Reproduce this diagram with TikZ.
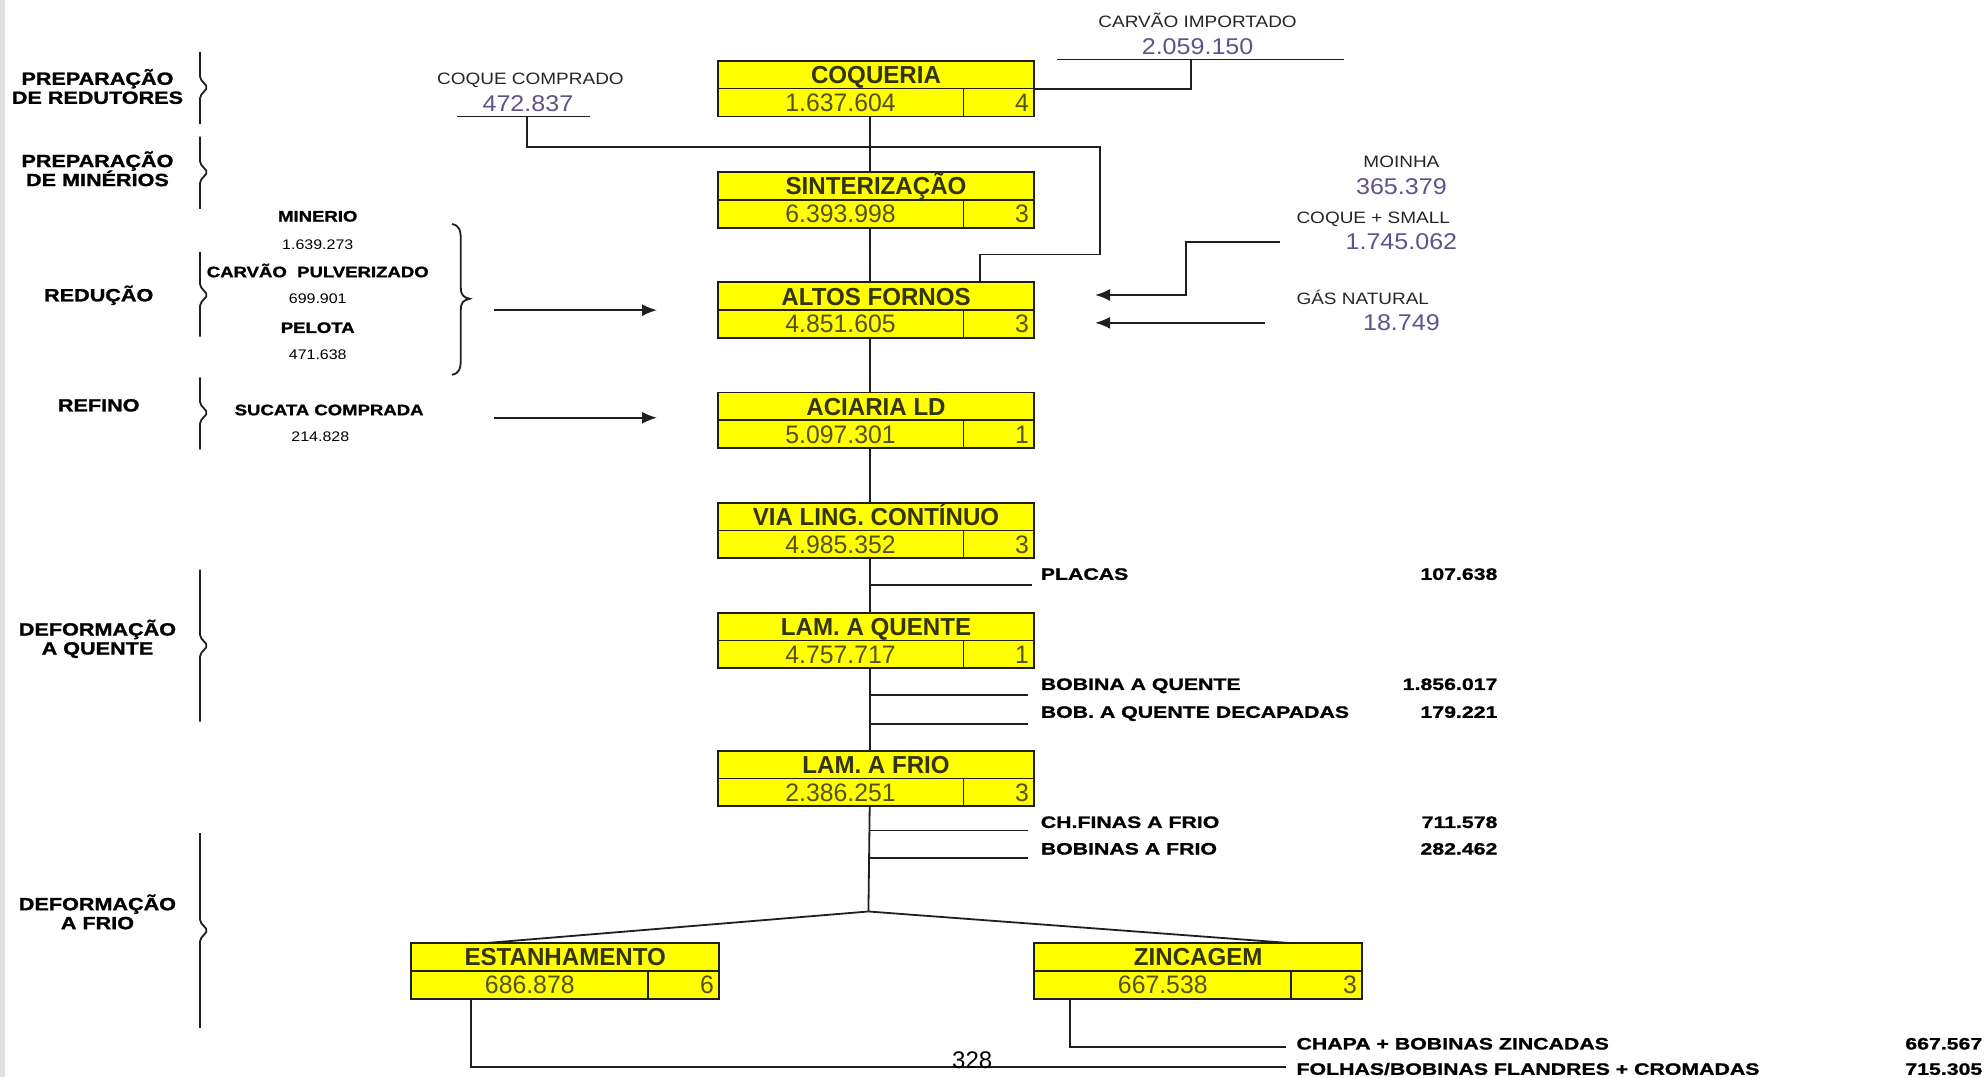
\documentclass[tikz,border=0pt]{standalone}
\usepackage{fontspec}
\setmainfont{Liberation Sans}
\newfontfamily\boxfont[FakeStretch=0.98]{Liberation Sans}
\newfontfamily\lblfont[FakeStretch=1.22, BoldFeatures={FakeBold=1.3}]{Liberation Sans}
\newfontfamily\olblfont[FakeStretch=1.29, BoldFeatures={FakeBold=1.2}]{Liberation Sans}
\newfontfamily\thinfont[FakeStretch=1.15]{Liberation Sans}
\newfontfamily\numfont[FakeStretch=1.1]{Liberation Sans}
\usetikzlibrary{calc,arrows.meta}
\definecolor{boxyellow}{rgb}{1,1,0}
\definecolor{boxtxt}{rgb}{0.2,0.2,0.05}
\definecolor{valtxt}{rgb}{0.33,0.32,0.1}
\definecolor{purp}{rgb}{0.38,0.32,0.55}
\definecolor{lncol}{rgb}{0.12,0.12,0.12}
\newcommand\procbox[7]{%
  \node[pbox, minimum width={#4*1.266pt}, minimum height={44*1.266pt}, anchor=north west] (#1) at (#2,#3) {};
  \draw[pline] (#1.west) -- (#1.east);
  \draw[pline] ($(#1.south east)+(-56,0)$) -- ($(#1.east)+(-56,0)$);
  \node[ptitle, anchor=base] (#1-t) at ($(#1.center)+(0,-4)$) {#5};
  \node[pval, anchor=base] (#1-v) at ($(#1.south west)+({(#4-56)/2},-4)$) {#6};
  \node[pval, anchor=base east] (#1-d) at ($(#1.south east)+(-4,-4)$) {#7};
}
\newcommand\stagebr[3]{%
  \draw[conn, rounded corners=2pt] (158,#1) -- (158,{#2-7}) -- (164,#2) -- (158,{#2+7}) -- (158,#3);
}
\begin{document}
\begin{tikzpicture}[x=1.266pt,y=-1.266pt,
  pbox/.style={draw=lncol, line width=1.9pt, fill=boxyellow, inner sep=0pt, outer sep=0pt},
  pline/.style={draw=lncol, line width=1.7pt},
  ptitle/.style={font=\boxfont\bfseries\fontsize{24.6pt}{26pt}\selectfont, text=boxtxt, inner sep=0pt},
  pval/.style={font=\boxfont\fontsize{25.3pt}{26pt}\selectfont, text=valtxt, inner sep=0pt},
  conn/.style={draw=lncol, line width=1.8pt},
  arr/.style={conn, -{Latex[length=15pt,width=12pt]}},
  stage/.style={font=\lblfont\bfseries\fontsize{17.7pt}{19pt}\selectfont, inner sep=0pt, anchor=base},
  inlbl/.style={font=\lblfont\bfseries\fontsize{15.2pt}{16pt}\selectfont, inner sep=0pt, anchor=base},
  innum/.style={font=\thinfont\fontsize{13.9pt}{15pt}\selectfont, inner sep=0pt, anchor=base},
  olbl/.style={font=\olblfont\bfseries\fontsize{16.5pt}{17pt}\selectfont, inner sep=0pt, anchor=base west},
  oval/.style={font=\olblfont\bfseries\fontsize{16.5pt}{17pt}\selectfont, inner sep=0pt, anchor=base east},
  thin/.style={font=\thinfont\fontsize{16.5pt}{17pt}\selectfont, text=black!85, inner sep=0pt, anchor=base},
  pnum/.style={font=\numfont\fontsize{22.8pt}{24pt}\selectfont, text=purp, inner sep=0pt, anchor=base},
]
\useasboundingbox (0,0) rectangle (1568,851);
\fill[white] (0,0) rectangle (1568,851);
\fill[black!12] (0,0) rectangle (4,851);

% process boxes
\procbox{coq}{567}{48}{250}{COQUERIA}{1.637.604}{4}
\procbox{sin}{567}{136}{250}{SINTERIZAÇÃO}{6.393.998}{3}
\procbox{alt}{567}{223}{250}{ALTOS FORNOS}{4.851.605}{3}
\procbox{aci}{567}{310}{250}{ACIARIA LD}{5.097.301}{1}
\procbox{via}{567}{397}{250}{VIA LING. CONTÍNUO}{4.985.352}{3}
\procbox{lqu}{567}{484}{250}{LAM. A QUENTE}{4.757.717}{1}
\procbox{lfr}{567}{593}{250}{LAM. A FRIO}{2.386.251}{3}
\procbox{est}{325}{745}{243}{ESTANHAMENTO}{686.878}{6}
\procbox{zin}{817}{745}{259}{ZINCAGEM}{667.538}{3}

% main line
\coordinate (mx) at (687,0);
\coordinate (jn) at (686,720);
\draw[conn] (coq.south -| mx) -- (sin.north -| mx);
\draw[conn] (sin.south -| mx) -- (alt.north -| mx);
\draw[conn] (alt.south -| mx) -- (aci.north -| mx);
\draw[conn] (aci.south -| mx) -- (via.north -| mx);
\draw[conn] (via.south -| mx) -- (lqu.north -| mx);
\draw[conn] (lqu.south -| mx) -- (lfr.north -| mx);
\draw[conn] (lfr.south -| mx) -- (jn);
\draw[conn] (jn) -- ($(est.north west)+(58,0)$);
\draw[conn] (jn) -- ($(zin.north east)+(-56,0)$);

% side outputs
\coordinate (o1) at (815,462);
\coordinate (o2) at (812,549);
\coordinate (o3) at (812,572);
\coordinate (o4) at (812,656);
\coordinate (o5) at (812,678);
\foreach \c in {o1,o2,o3,o4,o5} \draw[conn] (\c -| mx) -- (\c);
\node[olbl] (placas) at (822,458) {PLACAS};
\node[oval] (placas-v) at (1183,458) {107.638};
\node[olbl] (bq) at (822,545) {BOBINA A QUENTE};
\node[oval] (bq-v) at (1183,545) {1.856.017};
\node[olbl] (bqd) at (822,567) {BOB. A QUENTE DECAPADAS};
\node[oval] (bqd-v) at (1183,567) {179.221};
\node[olbl] (chf) at (822,654) {CH.FINAS A FRIO};
\node[oval] (chf-v) at (1183,654) {711.578};
\node[olbl] (bfr) at (822,675) {BOBINAS A FRIO};
\node[oval] (bfr-v) at (1183,675) {282.462};

% bottom outputs
\coordinate (zo) at (1016,827);
\coordinate (eo) at (1016,843);
\draw[conn] ($(zin.south west)+(28,0)$) |- (zo);
\draw[conn] ($(est.south west)+(47,0)$) |- (eo);
\node[olbl] (chapa) at (1024,829) {CHAPA + BOBINAS ZINCADAS};
\node[oval] (chapa-v) at (1566,829) {667.567};
\node[olbl] (folhas) at (1024,849) {FOLHAS/BOBINAS FLANDRES + CROMADAS};
\node[oval] (folhas-v) at (1566,849) {715.305};
\node[font=\fontsize{24pt}{25pt}\selectfont, inner sep=0pt, anchor=base] (pg) at (768,844) {328};

% coque comprado
\node[thin] (cc) at (419,66.5) {COQUE COMPRADO};
\node[pnum] (cc-v) at (417,88) {472.837};
\coordinate (cc1) at (361,92);
\coordinate (cc2) at (466,92);
\draw[conn] (cc1) -- (cc2);
\draw[conn] (416,92) -- (416,116) -- (869,116) -- (869,201) -- (774,201) -- (774,201 |- alt.north);

% carvao importado
\node[thin] (ci) at (946,21.5) {CARVÃO IMPORTADO};
\node[pnum] (ci-v) at (946,43) {2.059.150};
\coordinate (ci1) at (835,47);
\coordinate (ci2) at (1062,47);
\draw[conn] (ci1) -- (ci2);
\draw[conn] (941,47) |- (coq.east);

% right inputs
\node[thin] (mo) at (1107,132.5) {MOINHA};
\node[pnum] (mo-v) at (1107,154) {365.379};
\node[thin, anchor=base west] (cs) at (1024,176.5) {COQUE + SMALL};
\node[pnum] (cs-v) at (1107,197) {1.745.062};
\node[thin, anchor=base west] (gn) at (1024,240.5) {GÁS NATURAL};
\node[pnum] (gn-v) at (1107,261) {18.749};
\coordinate (r1) at (1011,191);
\coordinate (r1e) at (865,233);
\coordinate (r2) at (999,255);
\coordinate (r2e) at (865,255);
\draw[arr] (r1) -| (937,212) |- (r1e);
\draw[arr] (r2) -- (r2e);

% left inputs
\node[inlbl] (min) at (251,175) {MINERIO};
\node[innum] (min-v) at (251,197) {1.639.273};
\node[inlbl] (cp) at (251,219) {CARVÃO\ \ PULVERIZADO};
\node[innum] (cp-v) at (251,240) {699.901};
\node[inlbl] (pel) at (251,263) {PELOTA};
\node[innum] (pel-v) at (251,284) {471.638};
\node[inlbl] (suc) at (260,328) {SUCATA COMPRADA};
\node[innum] (suc-v) at (253,349) {214.828};
\draw[conn] (357,177) .. controls (363,178) and (364,182) .. (364,190) -- (364,227) .. controls (364,233) and (366,235) .. (371,236) .. controls (366,237) and (364,239) .. (364,245) -- (364,283) .. controls (364,291) and (363,295) .. (357,296);
\coordinate (a1s) at (390,245);
\coordinate (a1e) at (519,245);
\coordinate (a2s) at (390,330);
\coordinate (a2e) at (519,330);
\draw[arr] (a1s) -- (a1e);
\draw[arr] (a2s) -- (a2e);

% stage labels
\node[stage] (s1a) at (77,67) {PREPARAÇÃO};
\node[stage] (s1b) at (77,82) {DE REDUTORES};
\node[stage] (s2a) at (77,132) {PREPARAÇÃO};
\node[stage] (s2b) at (77,147) {DE MINÉRIOS};
\node[stage] (s3) at (78,238) {REDUÇÃO};
\node[stage] (s4) at (78,325) {REFINO};
\node[stage] (s5a) at (77,502) {DEFORMAÇÃO};
\node[stage] (s5b) at (77,517) {A QUENTE};
\node[stage] (s6a) at (77,719) {DEFORMAÇÃO};
\node[stage] (s6b) at (77,734) {A FRIO};
\stagebr{41}{69}{98}
\stagebr{108}{136}{165}
\stagebr{199}{233}{266}
\stagebr{298}{326}{355}
\stagebr{450}{510}{570}
\stagebr{658}{735}{812}
\end{tikzpicture}
\end{document}
